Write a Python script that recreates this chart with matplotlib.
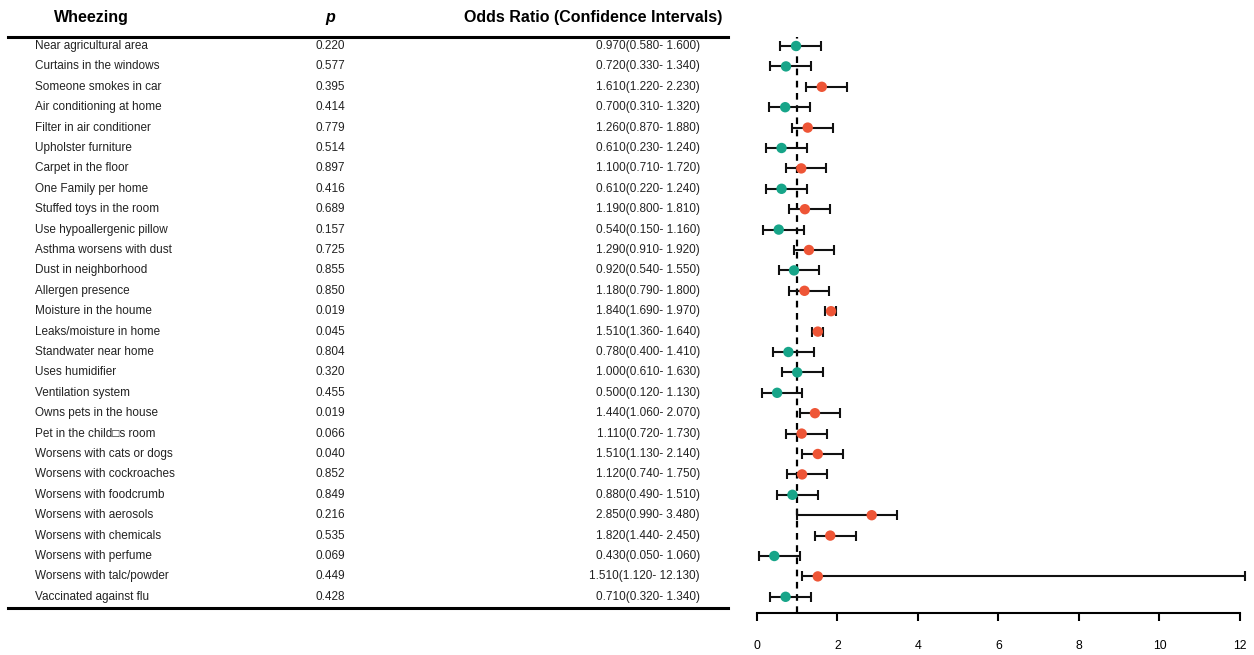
import matplotlib
matplotlib.use("Agg")
import matplotlib.pyplot as plt
import numpy as np

plt.rcParams['font.family'] = ['Liberation Sans', 'DejaVu Sans']

labels = ["Near agricultural area", "Curtains in the windows", "Someone smokes in car",
          "Air conditioning at home", "Filter in air conditioner", "Upholster furniture",
          "Carpet in the floor", "One Family per home", "Stuffed toys in the room",
          "Use hypoallergenic pillow", "Asthma worsens with dust", "Dust in neighborhood",
          "Allergen presence", "Moisture in the houme", "Leaks/moisture in home",
          "Standwater near home", "Uses humidifier", "Ventilation system",
          "Owns pets in the house", "Pet in the child\u25a1s room", "Worsens with cats or dogs",
          "Worsens with cockroaches", "Worsens with foodcrumb", "Worsens with aerosols",
          "Worsens with chemicals", "Worsens with perfume", "Worsens with talc/powder",
          "Vaccinated against flu"]
p_values = ["0.220", "0.577", "0.395", "0.414", "0.779", "0.514", "0.897", "0.416", "0.689",
            "0.157", "0.725", "0.855", "0.850", "0.019", "0.045", "0.804", "0.320", "0.455",
            "0.019", "0.066", "0.040", "0.852", "0.849", "0.216", "0.535", "0.069", "0.449",
            "0.428"]
odds = [0.97, 0.72, 1.61, 0.70, 1.26, 0.61, 1.10, 0.61, 1.19, 0.54, 1.29, 0.92, 1.18, 1.84,
        1.51, 0.78, 1.00, 0.50, 1.44, 1.11, 1.51, 1.12, 0.88, 2.85, 1.82, 0.43, 1.51, 0.71]
ci_low = [0.58, 0.33, 1.22, 0.31, 0.87, 0.23, 0.71, 0.22, 0.80, 0.15, 0.91, 0.54, 0.79, 1.69,
          1.36, 0.40, 0.61, 0.12, 1.06, 0.72, 1.13, 0.74, 0.49, 0.99, 1.44, 0.05, 1.12, 0.32]
ci_high = [1.60, 1.34, 2.23, 1.32, 1.88, 1.24, 1.72, 1.24, 1.81, 1.16, 1.92, 1.55, 1.80, 1.97,
           1.64, 1.41, 1.63, 1.13, 2.07, 1.73, 2.14, 1.75, 1.51, 3.48, 2.45, 1.06, 12.13, 1.34]
x_ticks = [0, 2, 4, 6, 8, 10, 12]

W, H = 1254, 655
fig = plt.figure(figsize=(W / 100, H / 100), dpi=100)

n = len(labels)
row0, step = 46, 20.4
top_px, bot_px = 37, 613
y_top = (top_px - row0) / step
y_bot = (bot_px - row0) / step

def fy(px):
    return 1 - px / H

# forest axis
ax = fig.add_axes([757 / W, fy(bot_px), (1240 - 757) / W, (bot_px - top_px) / H])
ax.set_xlim(0, 12)
ax.set_ylim(y_bot, y_top)
y = np.arange(n)
odds_a = np.array(odds)
lo = np.array(ci_low)
hi = np.array(ci_high)
ax.axvline(1, color='black', lw=1.6, ls=(0, (3, 2.5)), zorder=1)
eb = ax.errorbar(odds_a, y, xerr=[odds_a - lo, hi - odds_a], fmt='none', ecolor='#111111',
                 elinewidth=1.5, capsize=3.5, capthick=1.5, zorder=2)
for art in eb.get_children():
    art.set_clip_on(False)
colors = ['#ee5536' if o > 1 else '#17a589' for o in odds]
ax.scatter(odds_a, y, s=56, c=colors, zorder=3, edgecolors='none')
for s in ['top', 'right', 'left']:
    ax.spines[s].set_visible(False)
ax.spines['bottom'].set_linewidth(1.5)
ax.set_yticks([])
ax.set_xticks(x_ticks)
ax.tick_params(axis='x', direction='out', length=5.5, width=1.5, labelsize=8.8, pad=14)

# table axis
axt = fig.add_axes([0, fy(bot_px), 757 / W, (bot_px - top_px) / H])
axt.set_xlim(0, 757)
axt.set_ylim(y_bot, y_top)
axt.axis('off')
fs = 8.5
for i in range(n):
    axt.text(35, i, labels[i], fontsize=fs, va='center', ha='left', color='#222222')
    axt.text(330, i, p_values[i], fontsize=fs, va='center', ha='center', color='#222222')
    axt.text(700, i, f"{odds[i]:.3f}({ci_low[i]:.3f}- {ci_high[i]:.3f})", fontsize=fs,
             va='center', ha='right', color='#222222')

hy = (18 - row0) / step
axt.text(91, hy, "Wheezing", fontsize=11.5, fontweight='bold', ha='center', va='center', clip_on=False)
axt.text(330, hy, "p", fontsize=11.5, fontweight='bold', style='italic', ha='center', va='center', clip_on=False)
axt.text(593, hy, "Odds Ratio (Confidence Intervals)", fontsize=11.5, fontweight='bold',
         ha='center', va='center', clip_on=False)
axt.plot([8, 728], [y_top, y_top], color='black', lw=2.2, clip_on=False)
yb = (608 - row0) / step
axt.plot([8, 728], [yb, yb], color='black', lw=2.2, clip_on=False)

fig.savefig("out.png", dpi=100)
